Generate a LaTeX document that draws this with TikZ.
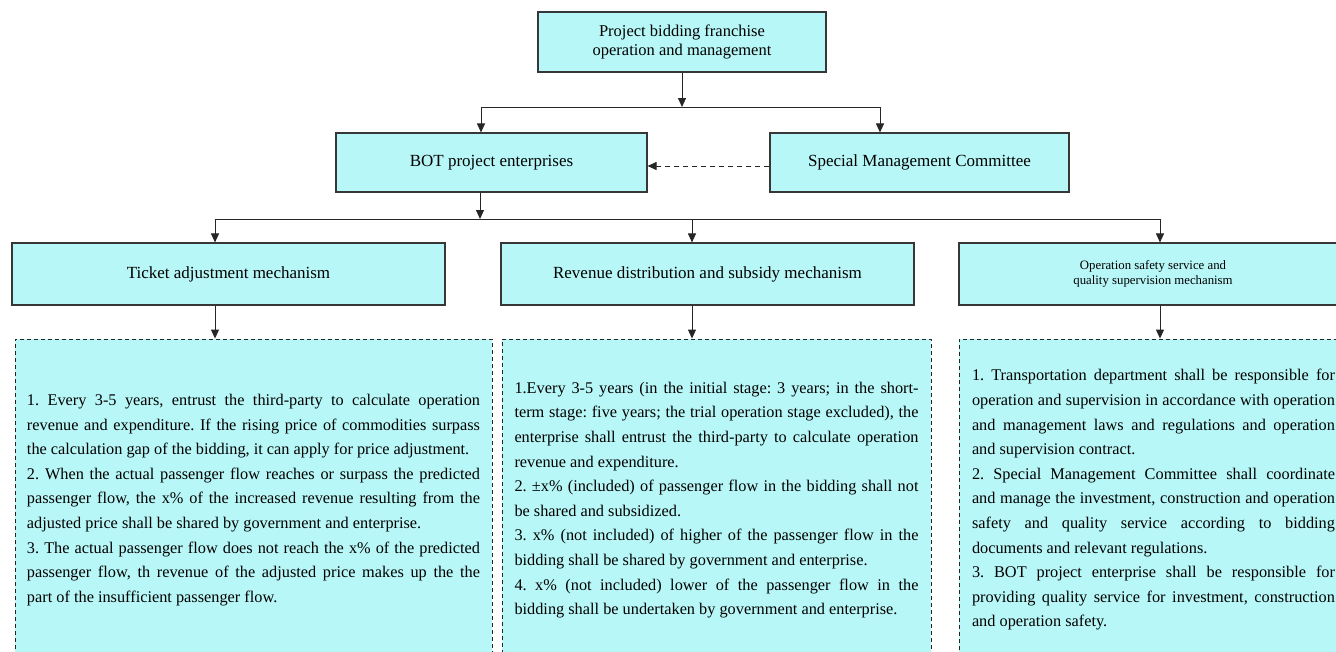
\documentclass[tikz,border=0pt]{standalone}
\usepackage{fontspec}
\setmainfont{Liberation Serif}
\usetikzlibrary{arrows.meta}
\definecolor{boxcol}{RGB}{184,247,247}
\definecolor{edgecol}{RGB}{55,55,55}
\newcommand\JL[1]{\hbox to \hsize{#1}}
\newcommand\LL[1]{\hbox{#1}}
\frenchspacing
\begin{document}
\begin{tikzpicture}[x=1pt,y=-1pt,
  solidbox/.style={draw=edgecol,line width=1.1pt,fill=boxcol,inner sep=0pt,align=center},
  dbox/.style={draw=black!85,line width=0.9pt,dash pattern=on 4pt off 3pt,fill=boxcol,inner sep=0pt},
  conn/.style={draw=black!85,line width=1pt},
  arr/.style={conn,-{Triangle[length=9pt,width=8pt]}},
  dconn/.style={conn,dash pattern=on 5pt off 4pt,-{Triangle[length=9pt,width=8pt]}},
  hfont/.style={font=\rmfamily\fontsize{17}{20}\selectfont},
  bfont/.style={font=\rmfamily\frenchspacing\fontsize{16.3}{24.6}\selectfont}]
\useasboundingbox (0,0) rectangle (1336,651);
\clip (0,0) rectangle (1336,651);

% top
\node[solidbox,minimum width=288,minimum height=60,font=\rmfamily\fontsize{16.5}{19}\selectfont] (top) at (682,42)
  {Project bidding franchise\\operation and management};
% second level
\node[solidbox,hfont,minimum width=311,minimum height=59] (bot) at (491.5,162.5) {BOT project enterprises};
\node[solidbox,hfont,minimum width=299,minimum height=59] (smc) at (919.5,162.5) {Special Management Committee};
% mechanisms
\node[solidbox,hfont,minimum width=433,minimum height=62] (tick) at (228.5,274) {Ticket adjustment mechanism};
\node[solidbox,hfont,minimum width=413,minimum height=62] (rev) at (707.5,274) {Revenue distribution and subsidy mechanism};
\node[solidbox,font=\rmfamily\fontsize{12.8}{15}\selectfont,minimum width=388,minimum height=62] (ops) at (1153,274)
  {Operation safety service and\\quality supervision mechanism};

% detail boxes
\node[dbox,bfont,minimum width=477,minimum height=322] (tbox) at (253.5,500) {\vbox{\hsize=453pt
\JL{1. Every 3-5 years, entrust the third-party to calculate operation}
\JL{revenue and expenditure. If the rising price of commodities surpass}
\LL{the calculation gap of the bidding, it can apply for price adjustment.}
\JL{2. When the actual passenger flow reaches or surpass the predicted}
\JL{passenger flow, the x\% of the increased revenue resulting from the}
\LL{adjusted price shall be shared by government and enterprise.}
\JL{3. The actual passenger flow does not reach the x\% of the predicted}
\JL{passenger flow, th revenue of the adjusted price makes up the the}
\LL{part of the insufficient passenger flow.}}};

\node[dbox,bfont,minimum width=429,minimum height=322] (rbox) at (716.5,500) {\vbox{\hsize=404pt
\JL{1.Every 3-5 years (in the initial stage: 3 years; in the short-}
\JL{term stage: five years; the trial operation stage excluded), the}
\JL{enterprise shall entrust the third-party to calculate operation}
\LL{revenue and expenditure.}
\JL{2. ±x\% (included) of passenger flow in the bidding shall not}
\LL{be shared and subsidized.}
\JL{3. x\% (not included) of higher of the passenger flow in the}
\LL{bidding shall be shared by government and enterprise.}
\JL{4. x\% (not included) lower of the passenger flow in the}
\LL{bidding shall be undertaken by government and enterprise.}}};

\node[dbox,bfont,minimum width=389,minimum height=322] (obox) at (1153.5,500) {\vbox{\hsize=363pt
\JL{1. Transportation department shall be responsible for}
\JL{operation and supervision in accordance with operation}
\JL{and management laws and regulations and operation}
\LL{and supervision contract.}
\JL{2. Special Management Committee shall coordinate}
\JL{and manage the investment, construction and operation}
\JL{safety and quality service according to bidding}
\LL{documents and relevant regulations.}
\JL{3. BOT project enterprise shall be responsible for}
\JL{providing quality service for investment, construction}
\LL{and operation safety.}}};

% junctions
\coordinate (j0) at (682,107);
\coordinate (jl) at (481,107);
\coordinate (jr) at (880,107);
\coordinate (k0) at (480,219);
\coordinate (k1) at (215,219);
\coordinate (k2) at (692,219);
\coordinate (k3) at (1160,219);

% connectors
\draw[arr] (top.south -| j0) -- (j0);
\draw[conn] (jl) -- (jr);
\draw[arr] (jl) -- (bot.north -| jl);
\draw[arr] (jr) -- (smc.north -| jr);
\draw[dconn] ([yshift=-3.5pt]smc.west) -- ([yshift=-3.5pt]bot.east);
\draw[arr] (bot.south -| k0) -- (k0);
\draw[conn] (k1) -- (k3);
\draw[arr] (k1) -- (tick.north -| k1);
\draw[arr] (k2) -- (rev.north -| k2);
\draw[arr] (k3) -- (ops.north -| k3);
\draw[arr] (tick.south -| k1) -- (tbox.north -| k1);
\draw[arr] (rev.south -| k2) -- (rbox.north -| k2);
\draw[arr] (ops.south -| k3) -- (obox.north -| k3);
\end{tikzpicture}
\end{document}
